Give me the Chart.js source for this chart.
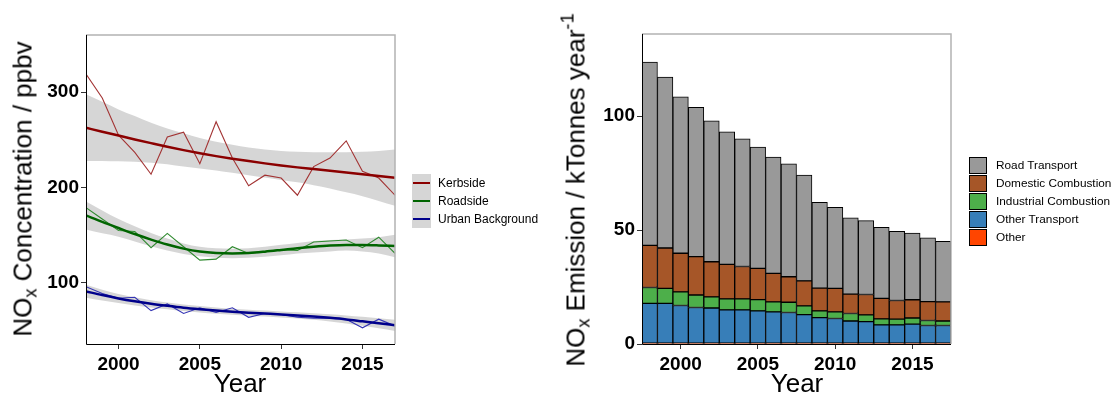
<!DOCTYPE html>
<html>
<head>
<meta charset="utf-8">
<script src="https://cdn.jsdelivr.net/npm/chart.js@4.4.0/dist/chart.umd.min.js"></script>
<style>
body { margin: 0; background: #fff; font-family: "Liberation Sans", Arial, sans-serif; }
#wrap { position: relative; width: 1120px; height: 397px; overflow: hidden; }
.box { position: absolute; top: 0; width: 560px; height: 397px; }
.ytitle { position: absolute; white-space: nowrap; font-size: 26px; line-height: 26px; transform: translate(-50%, -50%) rotate(-90deg); }
.xtitle { position: absolute; font-size: 26px; line-height: 26px; transform: translateX(-50%); top: 370px; }
.sub { font-size: 0.7em; position: relative; top: 0.3em; }
.sup { font-size: 0.7em; position: relative; top: -0.6em; }
.legend { position: absolute; font-size: 12px; }
.legend .row { display: flex; align-items: center; }
</style>
</head>
<body>
<div id="wrap">
  <div class="box" style="left:0"><canvas id="conc" width="560" height="397"></canvas></div>
  <div class="box" style="left:560px"><canvas id="emis" width="560" height="397"></canvas></div>

  <div class="ytitle" style="left:24px; top:189px">NO<span class="sub">x</span> Concentration / ppbv</div>
  <div class="xtitle" style="left:240px">Year</div>
  <div class="ytitle" style="left:577px; top:190px">NO<span class="sub">x</span> Emission / kTonnes year<span class="sup">-1</span></div>
  <div class="xtitle" style="left:797px">Year</div>

  <div class="legend" id="leg1" style="left:412px; top:174px"></div>
  <div class="legend" id="leg2" style="left:969px; top:156px; font-size:11.8px"></div>
</div>

<script>
// years shared by both panels
const years = [1998, 1999, 2000, 2001, 2002, 2003, 2004, 2005, 2006, 2007,
               2008, 2009, 2010, 2011, 2012, 2013, 2014, 2015, 2016, 2017];

// left panel: measured concentrations (ppbv)
const kerbRaw  = [319, 294, 255, 237, 214, 253, 258, 225, 269, 231, 202, 213, 210, 192, 222, 231, 249, 217, 210, 192];
const roadRaw  = [179, 167, 155, 154, 137, 152, 138, 124, 125, 138, 131, 133, 135, 134, 143, 144, 145, 137, 148, 131];
const urbanRaw = [96, 89, 84, 85, 71, 78, 68, 74, 69, 74, 64, 68, 67, 64, 63, 63, 62, 53, 62, 55];

// smooth fits and confidence bands
const kerbFit = [262.7, 258.5, 254.6, 250.5, 246.6, 242.8, 239.3, 236, 233, 230.3, 227.8, 225.4, 223.2, 221.2, 219.4, 217.6, 215.8, 214, 212.2, 210.4];
const kerbHi  = [298, 290, 282, 275, 268, 262, 257, 252, 248, 245, 242, 240, 238.5, 237.5, 237, 237, 237, 237.5, 238.5, 240];
const kerbLo  = [228, 228, 227.5, 227, 226, 224.5, 222, 220, 218, 215.5, 213, 210.5, 208, 205.5, 202.5, 199, 195, 191, 186, 181];
const roadFit = [170.8, 164, 157.6, 151.3, 145.5, 140.3, 136, 133, 131.5, 131, 131.4, 132.8, 134.6, 136.5, 138, 139.2, 139.8, 139.8, 139.4, 138.7];
const roadHi  = [185.5, 176, 167, 159.5, 152.5, 146.5, 141.5, 138, 136.5, 136, 136.5, 138, 140, 142, 144, 145, 145.5, 146.5, 148, 150.5];
const roadLo  = [156, 152, 148.5, 143.5, 138.5, 134, 130.5, 128, 126.5, 126, 126.5, 127.5, 129, 131, 132, 133, 134, 133, 131, 127];
const urbanFit = [91.2, 87.3, 83.8, 80.8, 78.2, 76, 74, 72.4, 71, 69.8, 68.8, 67.9, 67, 66, 64.8, 63.4, 61.8, 59.8, 57.8, 55.6];
const urbanHi  = [98, 93, 88.5, 85, 82, 79.5, 77.5, 75.8, 74.3, 73, 72, 71, 70.2, 69.3, 68.3, 67.2, 66, 64.5, 63, 61.5];
const urbanLo  = [84.5, 81.5, 79, 76.5, 74.4, 72.5, 70.5, 69, 67.7, 66.6, 65.6, 64.8, 63.8, 62.7, 61.3, 59.6, 57.6, 55.1, 52.6, 49.7];

// right panel: emissions (kTonnes/year) by sector
const roadTransport = [80.4, 75.0, 68.6, 65.5, 61.8, 58.2, 56.0, 53.2, 51.0, 49.5, 46.4, 37.7, 35.6, 33.5, 32.4, 31.2, 30.3, 29.3, 28.0, 26.5];
const domestic      = [18.5, 17.7, 16.9, 16.8, 15.4, 15.1, 14.2, 13.7, 12.5, 11.2, 11.0, 10.0, 10.3, 8.5, 8.9, 9.0, 8.2, 8.0, 8.3, 8.4];
const industrial    = [7.0, 6.6, 6.0, 5.5, 4.9, 4.8, 4.8, 5.0, 4.4, 4.5, 3.8, 2.9, 2.9, 3.3, 3.0, 2.6, 2.5, 2.7, 2.2, 2.0];
const otherTransport = [17.4, 17.4, 16.5, 15.6, 15.4, 14.6, 14.6, 14.1, 13.7, 13.4, 12.5, 11.2, 10.8, 9.7, 9.4, 8.0, 8.0, 8.3, 7.7, 7.7];
const other         = [0.4, 0.4, 0.4, 0.4, 0.4, 0.4, 0.4, 0.4, 0.4, 0.4, 0.4, 0.4, 0.4, 0.4, 0.4, 0.4, 0.4, 0.4, 0.4, 0.4];

const concTicks = [100, 200, 300];
const emisTicks = [0, 50, 100];

const bandFill = 'rgba(153,153,153,0.4)';
const tickFont = { family: '"Liberation Sans", Arial, sans-serif', size: 19, weight: 'bold' };

function pts(arr) {
  return years.map((y, i) => ({ x: y, y: arr[i] }));
}

// ggplot-like frame: black axis lines, grey top/right
const frame = {
  id: 'frame',
  afterDraw(chart) {
    const { ctx, chartArea: a } = chart;
    ctx.save();
    ctx.strokeStyle = '#b3b3b3';
    ctx.lineWidth = 1.5;
    ctx.beginPath();
    ctx.moveTo(a.left, a.top);
    ctx.lineTo(a.right, a.top);
    ctx.lineTo(a.right, a.bottom);
    ctx.stroke();
    ctx.strokeStyle = '#000';
    ctx.lineWidth = 1;
    ctx.beginPath();
    ctx.moveTo(a.left + 0.5, a.top);
    ctx.lineTo(a.left + 0.5, a.bottom + 0.5);
    ctx.lineTo(a.right, a.bottom + 0.5);
    ctx.stroke();
    ctx.restore();
  }
};

const sites = [
  { label: 'Kerbside', raw: kerbRaw, fit: kerbFit, hi: kerbHi, lo: kerbLo, rawCol: '#a33434', fitCol: '#8b0000' },
  { label: 'Roadside', raw: roadRaw, fit: roadFit, hi: roadHi, lo: roadLo, rawCol: '#2f8a2f', fitCol: '#006400' },
  { label: 'Urban Background', raw: urbanRaw, fit: urbanFit, hi: urbanHi, lo: urbanLo, rawCol: '#3434b4', fitCol: '#00008b' }
];

let concSets = [];
sites.forEach(s => {
  concSets.push({ data: pts(s.hi), borderWidth: 0, pointRadius: 0, fill: '+1', backgroundColor: bandFill, cubicInterpolationMode: 'monotone', order: 3 });
  concSets.push({ data: pts(s.lo), borderWidth: 0, pointRadius: 0, fill: false, cubicInterpolationMode: 'monotone', order: 3 });
  concSets.push({ data: pts(s.raw), borderColor: s.rawCol, borderWidth: 1.1, pointRadius: 0, fill: false, tension: 0, order: 2 });
  concSets.push({ label: s.label, data: pts(s.fit), borderColor: s.fitCol, borderWidth: 2.5, pointRadius: 0, fill: false, cubicInterpolationMode: 'monotone', order: 1 });
});

new Chart(document.getElementById('conc'), {
  type: 'line',
  data: { datasets: concSets },
  options: {
    responsive: false,
    animation: false,
    devicePixelRatio: 1,
    layout: { padding: { top: 35, right: 165, left: 0, bottom: 0 } },
    plugins: { legend: { display: false }, tooltip: { enabled: false } },
    scales: {
      x: {
        type: 'linear', min: 1998, max: 2017,
        afterFit: s => { s.height = 53; },
        ticks: { stepSize: 5, includeBounds: false, font: tickFont, color: '#000', padding: 4, maxRotation: 0, callback: v => String(v) },
        grid: { drawOnChartArea: false, tickLength: 5, color: '#333' },
        border: { display: false }
      },
      y: {
        min: 36, max: 360,
        afterFit: s => { s.width = 86; },
        afterBuildTicks: s => { s.ticks = concTicks.map(v => ({ value: v })); },
        ticks: { font: tickFont, color: '#000', padding: 2, callback: v => String(v) },
        grid: { drawOnChartArea: false, tickLength: 5, color: '#333' },
        border: { display: false }
      }
    }
  },
  plugins: [frame]
});

const sectors = [
  { label: 'Other', data: other, col: '#ff4500' },
  { label: 'Other Transport', data: otherTransport, col: '#377eb8' },
  { label: 'Industrial Combustion', data: industrial, col: '#4daf4a' },
  { label: 'Domestic Combustion', data: domestic, col: '#a65628' },
  { label: 'Road Transport', data: roadTransport, col: '#999999' }
];

new Chart(document.getElementById('emis'), {
  type: 'bar',
  data: {
    labels: years.map(String),
    datasets: sectors.map(s => ({
      label: s.label, data: s.data, backgroundColor: s.col,
      borderColor: '#000', borderWidth: 1, borderSkipped: false,
      barPercentage: 1, categoryPercentage: 1
    }))
  },
  options: {
    responsive: false,
    animation: false,
    devicePixelRatio: 1,
    layout: { padding: { top: 34, right: 169, left: 0, bottom: 0 } },
    plugins: { legend: { display: false }, tooltip: { enabled: false } },
    scales: {
      x: {
        stacked: true,
        afterFit: s => { s.height = 53; },
        ticks: { autoSkip: false, maxRotation: 0, font: tickFont, color: '#000', padding: 4,
                 callback: (v, i) => (years[i] % 5 === 0 ? String(years[i]) : '') },
        grid: { offset: false, drawOnChartArea: false, tickLength: 5,
                color: c => (years[c.index] % 5 === 0 ? '#333' : 'rgba(0,0,0,0)') },
        border: { display: false }
      },
      y: {
        stacked: true, min: 0, max: 136,
        afterFit: s => { s.width = 82; },
        afterBuildTicks: s => { s.ticks = emisTicks.map(v => ({ value: v })); },
        ticks: { font: tickFont, color: '#000', padding: 2, callback: v => String(v) },
        grid: { drawOnChartArea: false, tickLength: 5, color: '#333' },
        border: { display: false }
      }
    }
  },
  plugins: [frame]
});

// legends (ggplot style keys)
const leg1 = document.getElementById('leg1');
sites.forEach(s => {
  leg1.innerHTML += '<div class="row" style="height:18px"><span style="width:19px;height:18px;background:#d6d6d6;display:flex;align-items:center;justify-content:center">' +
    '<span style="width:17px;height:2px;background:' + s.fitCol + '"></span></span>' +
    '<span style="margin-left:7px">' + s.label + '</span></div>';
});
const leg2 = document.getElementById('leg2');
sectors.slice().reverse().forEach(s => {
  leg2.innerHTML += '<div class="row" style="height:18px"><span style="box-sizing:border-box;width:18px;height:17px;background:' + s.col + ';border:1px solid #000"></span>' +
    '<span style="margin-left:9px">' + s.label + '</span></div>';
});
</script>
</body>
</html>
